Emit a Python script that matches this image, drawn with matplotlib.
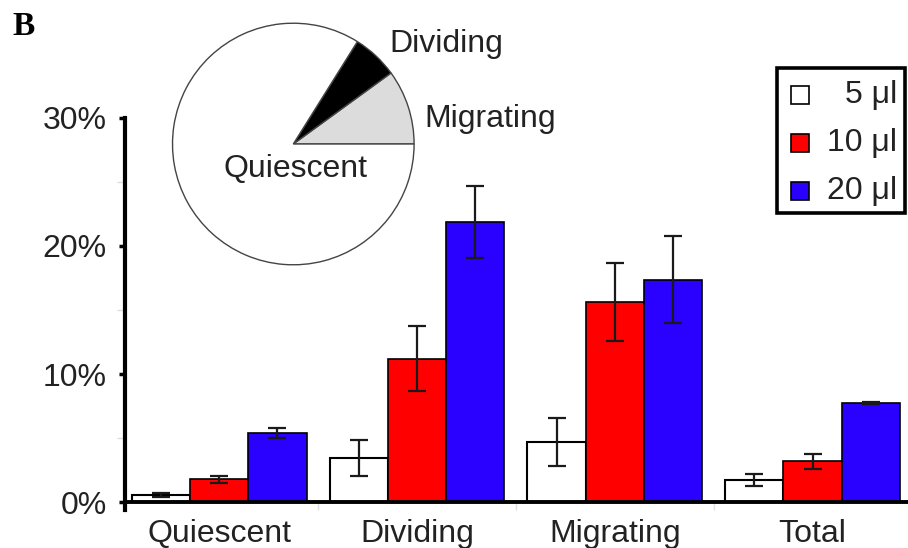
import matplotlib
matplotlib.use("Agg")
import matplotlib.pyplot as plt
from matplotlib.patches import Rectangle
from matplotlib.ticker import FixedLocator, FuncFormatter
import numpy as np

plt.rcParams['font.family'] = ['Liberation Sans', 'DejaVu Sans']

# ---- data ----
categories = ["Quiescent", "Dividing", "Migrating", "Total"]
series_labels = ["5 \u03bcl", "10 \u03bcl", "20 \u03bcl"]
vals_5 = [0.54, 3.42, 4.69, 1.71]
err_5 = [0.18, 1.42, 1.9, 0.44]
vals_10 = [1.76, 11.18, 15.63, 3.17]
err_10 = [0.27, 2.54, 3.03, 0.59]
vals_20 = [5.42, 21.88, 17.38, 7.73]
err_20 = [0.39, 2.83, 3.42, 0.06]
y_ticks = [0, 10, 20, 30]
pie_labels = ["Migrating", "Dividing", "Quiescent"]
pie_values = [10.0, 6.1, 83.9]

colors = ["white", "#ff0000", "#2a00ff"]
FS = 23

W, H = 908, 548
fig = plt.figure(figsize=(W / 100, H / 100), dpi=100)

# main bar axes
ax = fig.add_axes([125 / W, 0.0699, 783 / W, 0.7148])
x = np.arange(len(categories))
w = 0.2948
series = [(vals_5, err_5), (vals_10, err_10), (vals_20, err_20)]
for i, (v, e) in enumerate(series):
    pos = x + (i - 1) * w
    ax.bar(pos, v, width=w, color=colors[i], edgecolor="black",
           linewidth=1.5 if i == 0 else 1.2, zorder=2)
    ax.errorbar(pos, v, yerr=e, fmt="none", ecolor="#1a1a1a", elinewidth=1.6,
                capsize=6.5, capthick=1.6, zorder=3)

ax.set_xlim(-0.476, 3.482)
ax.set_ylim(-0.6, 30)
for s in ["top", "right"]:
    ax.spines[s].set_visible(False)
ax.spines["bottom"].set_position(("data", 0))
ax.spines["left"].set_bounds(-0.6, 30)
ax.spines["left"].set_linewidth(3)
ax.spines["bottom"].set_linewidth(2.8)

ax.set_yticks(y_ticks)
ax.yaxis.set_major_formatter(FuncFormatter(lambda v, p: f"{int(v)}%"))
ax.yaxis.set_minor_locator(FixedLocator([5, 15, 25]))
ax.tick_params(axis="y", which="major", length=4, width=2.5, pad=9, labelsize=FS,
               colors="black", labelcolor="#222222")
ax.tick_params(axis="y", which="minor", length=6, width=1, color="#dddddd")

ax.set_xticks(x)
ax.set_xticklabels(categories)
ax.xaxis.set_minor_locator(FixedLocator([0.5, 1.5, 2.5]))
ax.tick_params(axis="x", which="major", length=0, pad=12, labelsize=FS, labelcolor="#222222")
ax.tick_params(axis="x", which="minor", length=6, width=1, color="#e0e0e0")

# pie inset
pax = fig.add_axes([(293.3 - 122) / W, (548 - 144 - 122) / H, 244 / W, 244 / H])
pax.pie(pie_values, colors=["#dcdcdc", "black", "white"], startangle=0,
        counterclock=True,
        wedgeprops=dict(edgecolor="#444444", linewidth=1.0))
pax.set_xlim(-1.01, 1.01)
pax.set_ylim(-1.01, 1.01)
pax.set_aspect("equal")
pax.text(1.27, 0.83, pie_labels[1], ha="center", va="center", fontsize=FS, color="#222222")
pax.text(1.63, 0.21, pie_labels[0], ha="center", va="center", fontsize=FS, color="#222222")
pax.text(0.02, -0.21, pie_labels[2], ha="center", va="center", fontsize=FS, color="#222222")

# legend (manual, right-aligned text)
def px(xp, yp):
    return xp / W, 1 - yp / H

lx0, ly0, lx1, ly1 = 777, 68, 905, 213
fig.patches.append(Rectangle(px(lx0, ly1), (lx1 - lx0) / W, (ly1 - ly0) / H,
                             transform=fig.transFigure, fill=False,
                             edgecolor="black", linewidth=2.6))
row_y = [95, 143, 191]
for i, lab in enumerate(series_labels):
    sq = 18
    fig.patches.append(Rectangle(px(791, row_y[i] + sq / 2), sq / W, sq / H,
                                 transform=fig.transFigure, facecolor=colors[i],
                                 edgecolor="black", linewidth=1.2))
    fig.text(*px(897, row_y[i]), lab, ha="right", va="center", fontsize=FS,
             color="#222222")

# panel label
fig.text(12 / W, 1 - 11 / H, "B", ha="left", va="top", fontsize=24,
         fontweight="bold", family=["Liberation Serif", "DejaVu Serif"])

fig.savefig("out.png", dpi=100)
